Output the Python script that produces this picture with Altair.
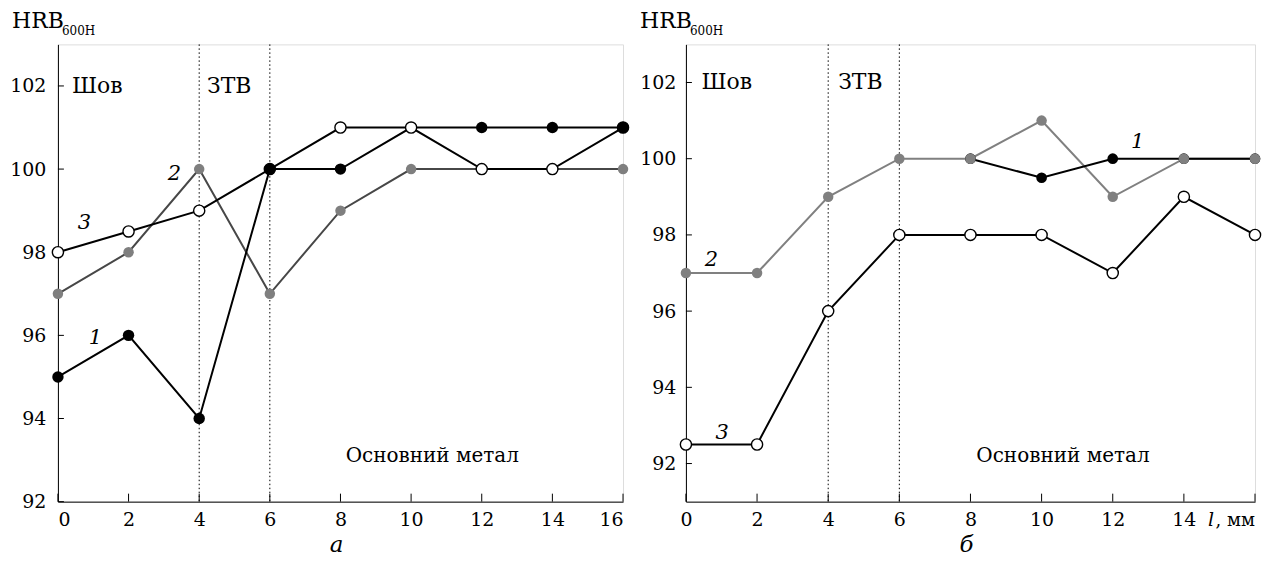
import altair as alt
import pandas as pd

# ---------------- data ----------------
x_pos = [0, 2, 4, 6, 8, 10, 12, 14, 16]

# panel а
a_curve1 = [95, 96, 94, 100, 100, 101, 101, 101, 101]
a_curve2 = [97, 98, 100, 97, 99, 100, 100, 100, 100]
a_curve3 = [98, 98.5, 99, 100, 101, 101, 100, 100, 101]
a_curve1_marker_x = [0, 2, 4, 6, 8, 12, 14, 16]   # black markers drawn on top

# panel б
b_curve1_x = [8, 10, 12, 14, 16]
b_curve1 = [100, 99.5, 100, 100, 100]
b_curve2 = [97, 97, 99, 100, 100, 101, 99, 100, 100]
b_curve3 = [92.5, 92.5, 96, 98, 98, 98, 97, 99, 98]

zone_x = [4, 6]
y_ticks = [92, 94, 96, 98, 100, 102]
x_ticks = [0, 2, 4, 6, 8, 10, 12, 14, 16]

zone_names = ["Шов", "ЗТВ"]
a_zone_lx = [0.4, 4.22]
b_zone_lx = [0.44, 4.28]
zone_ly = 102
base_metal = "Основний метал"
a_base_xy = (10.6, 93.1)
b_base_xy = (10.6, 92.2)

curve_names = ["1", "2", "3"]
a_curve_lx = [1.06, 3.3, 0.75]
a_curve_ly = [95.94, 99.88, 98.7]
b_curve_lx = [12.7, 0.72, 1.02]
b_curve_ly = [100.43, 97.34, 92.81]

FONT = "DejaVu Serif"
TICK_FS = 19
W_A, W_B, H = 566, 570, 458


def df(xs, ys):
    return pd.DataFrame({"x": xs, "y": ys})


def panel(width, ydom, series_layers, zone_lx, base_xy, curve_lx, curve_ly,
          caption, x_label_expr, flush, ypad):
    xs = alt.Scale(domain=[0, 16], nice=False, zero=False)
    ys = alt.Scale(domain=ydom, nice=False, zero=False)

    axis_x = alt.Axis(values=x_ticks, ticks=False, tickSize=0, grid=False,
                      labelFont=FONT, labelFontSize=TICK_FS, labelColor="black",
                      labelPadding=9, domainColor="black", title=None,
                      labelExpr=x_label_expr, labelFlush=flush, labelOverlap=False)
    axis_y = alt.Axis(values=y_ticks, ticks=False, tickSize=0, grid=False,
                      labelFont=FONT, labelFontSize=TICK_FS, labelColor="black",
                      labelPadding=ypad, domainColor="black", title=None,
                      labelFlush=False, labelOverlap=False)

    X = lambda: alt.X("x:Q", scale=xs, axis=axis_x)
    Y = lambda: alt.Y("y:Q", scale=ys, axis=axis_y)

    zones = alt.Chart(pd.DataFrame({"x": zone_x})).mark_rule(
        color="black", strokeWidth=1, strokeDash=[1.5, 2.5]
    ).encode(x=X(), y=alt.value(0), y2=alt.value(H))

    yt = alt.Chart(pd.DataFrame({"y": y_ticks})).mark_rule(
        color="black", strokeWidth=1).encode(
        y=Y(), x=alt.value(0), x2=alt.value(6))
    xt = alt.Chart(pd.DataFrame({"x": x_ticks})).mark_rule(
        color="black", strokeWidth=1).encode(
        x=X(), y=alt.value(H), y2=alt.value(H - 8))

    zl = alt.Chart(pd.DataFrame({"x": zone_lx, "y": [zone_ly] * 2,
                                 "t": zone_names})).mark_text(
        font=FONT, fontSize=22, align="left", baseline="middle", color="black"
    ).encode(x=X(), y=Y(), text="t:N")

    bl = alt.Chart(pd.DataFrame({"x": [base_xy[0]], "y": [base_xy[1]],
                                 "t": [base_metal]})).mark_text(
        font=FONT, fontSize=20, align="center", baseline="middle", color="black"
    ).encode(x=X(), y=Y(), text="t:N")

    cl = alt.Chart(pd.DataFrame({"x": curve_lx, "y": curve_ly,
                                 "t": curve_names})).mark_text(
        font=FONT, fontSize=21, fontStyle="italic", align="center",
        baseline="middle", color="black"
    ).encode(x=X(), y=Y(), text="t:N")

    hrb = alt.Chart(pd.DataFrame({"t": ["HRB"]})).mark_text(
        font=FONT, fontSize=22, align="left", baseline="alphabetic", color="black"
    ).encode(x=alt.value(-46), y=alt.value(-16), text="t:N")
    sub = alt.Chart(pd.DataFrame({"t": ["600H"]})).mark_text(
        font=FONT, fontSize=12, align="left", baseline="alphabetic", color="black"
    ).encode(x=alt.value(4), y=alt.value(-9), text="t:N")

    cap = alt.Chart(pd.DataFrame({"t": [caption]})).mark_text(
        font=FONT, fontSize=23, fontStyle="italic", align="center",
        baseline="alphabetic", color="black"
    ).encode(x=alt.value(width / 2 - 4), y=alt.value(H + 50), text="t:N")

    layers = [zones, yt, xt] + series_layers(X, Y) + [zl, bl, cl, hrb, sub, cap]
    return alt.layer(*layers).properties(width=width, height=H)


def line(d, color, X, Y, sw=2):
    return alt.Chart(d).mark_line(color=color, strokeWidth=sw).encode(x=X(), y=Y())


def filled(d, color, X, Y, size=130):
    return alt.Chart(d).mark_circle(color=color, size=size, opacity=1).encode(x=X(), y=Y())


def hollow(d, X, Y, size=125):
    return alt.Chart(d).mark_point(shape="circle", size=size, fill="white",
                                   stroke="black", strokeWidth=1.4, opacity=1,
                                   fillOpacity=1).encode(x=X(), y=Y())


def series_a(X, Y):
    d1 = df(x_pos, a_curve1)
    d1m = d1[d1["x"].isin(a_curve1_marker_x)]
    d2 = df(x_pos, a_curve2)
    d3 = df(x_pos, a_curve3)
    return [
        line(d2, "#474747", X, Y),
        line(d3, "black", X, Y),
        line(d1, "black", X, Y),
        filled(d2, "#7f7f7f", X, Y, size=110),
        hollow(d3, X, Y),
        filled(d1m, "black", X, Y),
    ]


def series_b(X, Y):
    d1 = df(b_curve1_x, b_curve1)
    d2 = df(x_pos, b_curve2)
    d3 = df(x_pos, b_curve3)
    return [
        line(d2, "#808080", X, Y),
        line(d3, "black", X, Y),
        line(d1, "black", X, Y),
        filled(d1, "black", X, Y, size=115),
        filled(d2, "#808080", X, Y, size=110),
        hollow(d3, X, Y),
    ]


pa = panel(W_A, [92, 103], series_a, a_zone_lx, a_base_xy, a_curve_lx,
           a_curve_ly, "а", "datum.label", True, 12)
pb_core = panel(W_B, [91, 103], series_b, b_zone_lx, b_base_xy, b_curve_lx,
                b_curve_ly, "б", "datum.value == 16 ? '' : datum.label", False, 10)

ell = alt.Chart(pd.DataFrame({"t": ["l"]})).mark_text(
    font=FONT, fontSize=TICK_FS, fontStyle="italic", align="right",
    baseline="top", color="black"
).encode(x=alt.value(W_B - 41), y=alt.value(H + 9), text="t:N")
mm = alt.Chart(pd.DataFrame({"t": [", мм"]})).mark_text(
    font=FONT, fontSize=18, align="right", baseline="top", color="black"
).encode(x=alt.value(W_B), y=alt.value(H + 10), text="t:N")
pb = alt.layer(pb_core, ell, mm)

chart = alt.hconcat(pa, pb, spacing=7).properties(
    padding={"left": 1, "top": 1, "right": 0, "bottom": 0}
).configure_view(stroke="black", strokeWidth=1).configure(
    background="white"
)

chart.save("out.html", embed_options={"renderer": "svg", "actions": False})
